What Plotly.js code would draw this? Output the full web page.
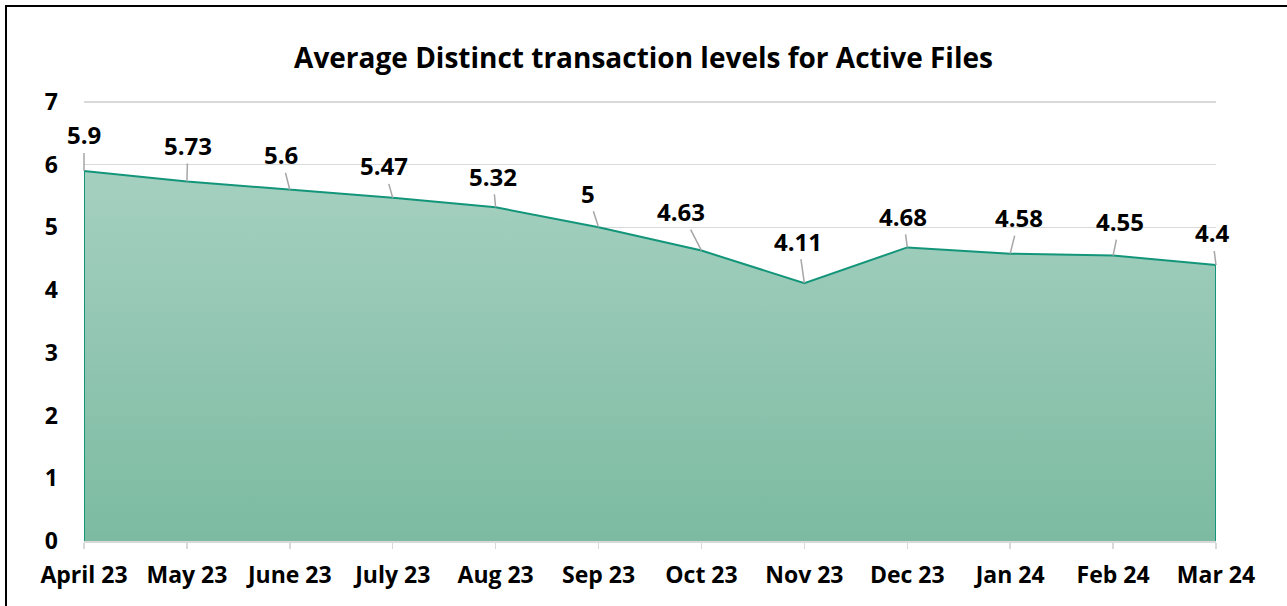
<!DOCTYPE html>
<html>
<head>
<meta charset="utf-8">
<script src="https://cdn.plot.ly/plotly-3.0.1.min.js"></script>
<style>
  html, body { margin: 0; padding: 0; background: #fff; }
  #wrap { position: relative; width: 1287px; height: 606px; overflow: hidden; }
  #chart { position: absolute; left: 0; top: 0; width: 1287px; height: 606px; }
  #frame { position: absolute; left: 5px; top: 5px; width: 1300px; height: 700px;
           border-left: 2px solid #000; border-top: 2px solid #000; pointer-events: none; }
</style>
</head>
<body>
<div id="wrap">
  <div id="chart"></div>
  <div id="frame"></div>
</div>
<script>
const months = ["April 23", "May 23", "June 23", "July 23", "Aug 23", "Sep 23",
                "Oct 23", "Nov 23", "Dec 23", "Jan 24", "Feb 24", "Mar 24"];
const avgTransactions = [5.9, 5.73, 5.6, 5.47, 5.32, 5, 4.63, 4.11, 4.68, 4.58, 4.55, 4.4];
const labelText = ["5.9", "5.73", "5.6", "5.47", "5.32", "5", "4.63", "4.11", "4.68", "4.58", "4.55", "4.4"];
const yTicks = [0, 1, 2, 3, 4, 5, 6, 7];

// label offsets (pixels) relative to each point, as placed in the original
const labelDx = [0, 1, -9, -9, -3, -11, -20, -6, -4, 9, 7, -4];
const labelDy = [-36, -36, -35, -32, -31, -34, -39, -42, -31, -36, -34, -32];

const FONT = "'Open Sans', Lato, 'Liberation Sans', Arial, sans-serif";
const lineColor = "#13957a";

// area outline: closes down to zero at both ends so the side edges are drawn
const areaX = [months[0]].concat(months, [months[months.length - 1]]);
const areaY = [0].concat(avgTransactions, [0]);

const traces = [{
  type: "scatter",
  mode: "lines",
  x: areaX,
  y: areaY,
  fill: "tozeroy",
  fillgradient: {
    type: "vertical",
    colorscale: [[0, "#7cbba2"], [1, "#a5d0c0"]]
  },
  line: { color: lineColor, width: 2 },
  hoverinfo: "skip",
  showlegend: false
}];

const annotations = months.map((m, i) => ({
  x: m,
  y: avgTransactions[i],
  xref: "x",
  yref: "y",
  text: "<b>" + labelText[i] + "</b>",
  showarrow: true,
  arrowhead: 0,
  arrowwidth: 1.5,
  arrowcolor: "#a6a6a6",
  ax: labelDx[i],
  ay: labelDy[i],
  standoff: 0,
  startstandoff: 0,
  font: { family: FONT, size: 24, color: "#000" }
}));

const layout = {
  width: 1287,
  height: 606,
  margin: { l: 84, r: 71, t: 100, b: 65 },
  paper_bgcolor: "#ffffff",
  plot_bgcolor: "#ffffff",
  title: {
    text: "<b>Average Distinct transaction levels for Active Files</b>",
    font: { family: FONT, size: 28, color: "#000" },
    x: 0.5, xref: "container", xanchor: "center",
    y: 1 - 58 / 606, yref: "container", yanchor: "middle"
  },
  xaxis: {
    type: "category",
    categoryorder: "array",
    categoryarray: months,
    range: [0, months.length - 1],
    showgrid: false,
    showline: true,
    linecolor: "#d9d9d9",
    linewidth: 1.5,
    ticks: "outside",
    ticklen: 6,
    tickcolor: "#d9d9d9",
    tickwidth: 1.5,
    ticklabelstandoff: 7,
    tickfont: { family: FONT, size: 23, color: "#000", weight: "bold" },
    fixedrange: true,
    zeroline: false
  },
  yaxis: {
    range: [0, 7.03],
    tickvals: yTicks,
    ticktext: yTicks.map(String),
    showgrid: true,
    gridcolor: "#d9d9d9",
    gridwidth: 1.5,
    showline: false,
    zeroline: false,
    ticks: "",
    ticklabelstandoff: 25,
    tickfont: { family: FONT, size: 23, color: "#000", weight: "bold" },
    fixedrange: true
  },
  annotations: annotations,
  showlegend: false
};

Plotly.newPlot("chart", traces, layout, { displayModeBar: false, staticPlot: true });
</script>
</body>
</html>
